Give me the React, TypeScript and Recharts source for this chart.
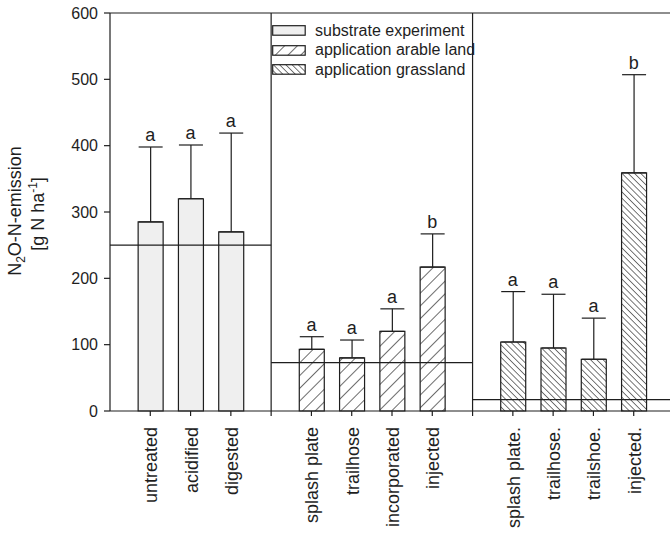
import React from 'react'
import { ComposedChart, Bar, Cell, ErrorBar, Line, LabelList, XAxis, YAxis, ReferenceLine, Legend } from 'recharts'

const categories = ['untreated', 'acidified', 'digested', 'splash plate', 'trailhose', 'incorporated', 'injected', 'splash plate.', 'trailhose.', 'trailshoe.', 'injected.']
const groups = ['substrate', 'substrate', 'substrate', 'arable', 'arable', 'arable', 'arable', 'grassland', 'grassland', 'grassland', 'grassland']
const emissions = [285, 320, 270, 93, 80, 120, 217, 104, 95, 78, 359]
const errorsUp = [113, 81, 149, 19, 27, 34, 50, 76, 81, 62, 148]
const letters = ['a', 'a', 'a', 'a', 'a', 'a', 'b', 'a', 'a', 'a', 'b']

const groupNames = ['substrate', 'arable', 'grassland']
const groupLabels = ['substrate experiment', 'application arable land', 'application grassland']
const groupReference = [250, 73, 17]
const yTicks = [0, 100, 200, 300, 400, 500, 600]

const INK = '#1e1e1e'
const FONT = "'Liberation Sans', Arial, sans-serif"

// one empty slot between groups, like the original figure
const rows = categories.map((name, i) => {
  const gi = groupNames.indexOf(groups[i])
  return {
    slot: i + gi,
    name,
    group: groups[i],
    value: emissions[i],
    err: [0, errorsUp[i]],
    top: emissions[i] + errorsUp[i],
    letter: letters[i],
  }
})

const lastSlot = categories.length + groupNames.length - 2
const slotTicks = Array.from({ length: lastSlot + 1 }, (_, i) => i)
const slotLabel: Record<number, string> = {}
rows.forEach((r) => (slotLabel[r.slot] = r.name))

const groupEdges = groupNames.map((g) => {
  const slots = rows.filter((r) => r.group === g).map((r) => r.slot)
  return [Math.min(...slots) - 1, Math.max(...slots) + 1]
})

const fillFor = (g: string, prefix = 'p') => {
  if (g === 'substrate') return '#efefef'
  return `url(#${prefix}-${g})`
}

function Patterns({ prefix }: { prefix: string }) {
  return (
    <defs>
      <pattern id={`${prefix}-arable`} patternUnits="userSpaceOnUse" width={9} height={9} patternTransform="rotate(45)">
        <rect width={9} height={9} fill="#fff" />
        <line x1={0} y1={0} x2={0} y2={9} stroke={INK} strokeWidth={1.3} />
      </pattern>
      <pattern id={`${prefix}-grassland`} patternUnits="userSpaceOnUse" width={4.4} height={4.4} patternTransform="rotate(-45)">
        <rect width={4.4} height={4.4} fill="#fff" />
        <line x1={0} y1={0} x2={0} y2={4.4} stroke={INK} strokeWidth={1.2} />
      </pattern>
    </defs>
  )
}

function SlotTick(props: any) {
  const { x, y, payload } = props
  const label = slotLabel[payload.value] || ''
  return (
    <text
      transform={`translate(${x + 7},${y + 9}) rotate(-90)`}
      textAnchor="end"
      fontSize={18}
      fill={INK}
      fontFamily={FONT}
    >
      {label}
    </text>
  )
}

function YLabel() {
  return (
    <g fill={INK} fontSize={18} fontFamily={FONT}>
      <text transform="translate(21,211) rotate(-90)" textAnchor="middle">
        N<tspan dy={4} fontSize={12}>2</tspan>
        <tspan dy={-4}>O-N-emission</tspan>
      </text>
      <text transform="translate(44,214) rotate(-90)" textAnchor="middle">
        [g N ha<tspan dy={-7} fontSize={12}>-1</tspan>
        <tspan dy={7}>]</tspan>
      </text>
    </g>
  )
}

function LegendBox() {
  return (
    <div style={{ fontFamily: FONT, fontSize: 16, color: INK }}>
      {groupNames.map((g, i) => (
        <div key={g} style={{ display: 'flex', alignItems: 'center', height: 19.5 }}>
          <svg width={34} height={11} style={{ display: 'block' }}>
            <Patterns prefix="lg" />
            <rect x={0.7} y={0.7} width={32.5} height={9.5} fill={fillFor(g, 'lg')} stroke={INK} strokeWidth={1.2} />
          </svg>
          <span style={{ marginLeft: 9, lineHeight: '16px' }}>{groupLabels[i]}</span>
        </div>
      ))}
    </div>
  )
}

export default function App() {
  return (
    <div style={{ position: 'absolute', left: 0, top: 0, width: 670, height: 535, overflow: 'hidden', background: '#fff' }}>
      <ComposedChart width={700} height={535} data={rows} margin={{ top: 13, right: 26, bottom: 0, left: 0 }}>
        <Patterns prefix="p" />
        <XAxis
          dataKey="slot"
          type="number"
          domain={[-1, lastSlot + 1]}
          ticks={slotTicks}
          interval={0}
          height={124}
          tick={<SlotTick />}
          tickSize={5}
          axisLine={{ stroke: INK, strokeWidth: 1.2 }}
          tickLine={{ stroke: INK, strokeWidth: 1.2 }}
        />
        <YAxis
          type="number"
          domain={[0, 600]}
          ticks={yTicks}
          interval={0}
          width={110}
          tickSize={6}
          tickMargin={6}
          tick={{ fill: INK, fontSize: 16, fontFamily: FONT }}
          axisLine={{ stroke: INK, strokeWidth: 1.2 }}
          tickLine={{ stroke: INK, strokeWidth: 1.2 }}
          label={<YLabel />}
        />
        <Legend
          layout="vertical"
          align="center"
          verticalAlign="middle"
          content={<LegendBox />}
          wrapperStyle={{ left: 272, top: 21, width: 'auto' }}
        />
        <Bar dataKey="value" barSize={25} stroke={INK} strokeWidth={1.2} isAnimationActive={false} legendType="none">
          {rows.map((r) => (
            <Cell key={r.slot} fill={fillFor(r.group)} />
          ))}
          <ErrorBar dataKey="err" direction="y" width={12} stroke={INK} strokeWidth={1.2} isAnimationActive={false} />
        </Bar>
        <Line dataKey="top" stroke="none" dot={false} activeDot={false} isAnimationActive={false} legendType="none">
          <LabelList dataKey="letter" position="top" offset={6} fill={INK} fontSize={18} fontFamily={FONT} />
        </Line>
        <ReferenceLine y={600} stroke={INK} strokeWidth={1.2} />
        {groupEdges.slice(1).map(([start]) => (
          <ReferenceLine key={start} x={start} stroke={INK} strokeWidth={1.2} />
        ))}
        {groupEdges.map(([start, end], i) => (
          <ReferenceLine
            key={`ref-${i}`}
            segment={[{ x: start, y: groupReference[i] }, { x: end, y: groupReference[i] }]}
            stroke={INK}
            strokeWidth={1.2}
          />
        ))}
      </ComposedChart>
    </div>
  )
}
